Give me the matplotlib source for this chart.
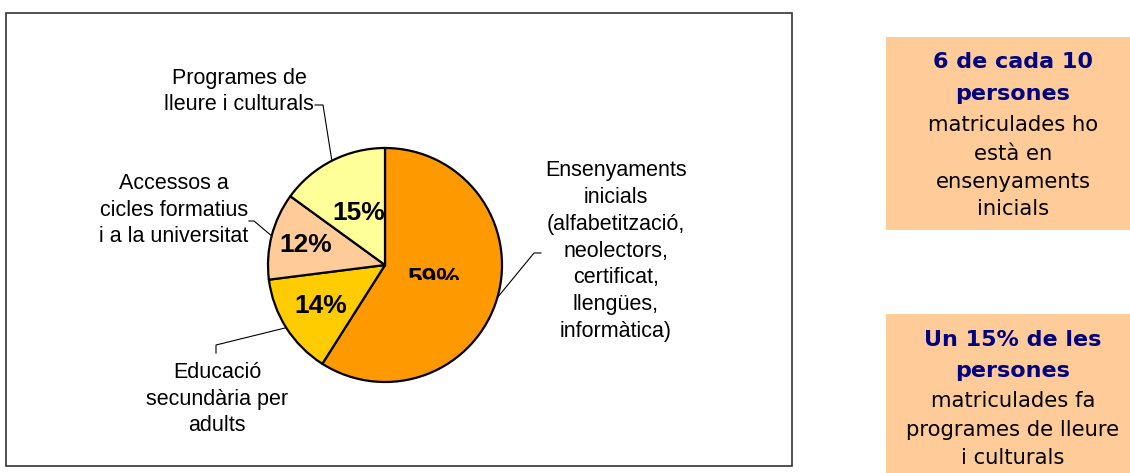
import math
import matplotlib
matplotlib.use("Agg")
import matplotlib.pyplot as plt
from matplotlib.patches import Rectangle
from matplotlib.transforms import Bbox, TransformedBbox

# ─── Data ─────────────────────────────────────────────────────────────────────
categories = [
    "Ensenyaments\ninicials\n(alfabetització,\nneolectors,\ncertificat,\nllengües,\ninformàtica)",
    "Educació\nsecundària per\nadults",
    "Accessos a\ncicles formatius\ni a la universitat",
    "Programes de\nlleure i culturals",
]
shares = [59, 14, 12, 15]
pct_labels = ["59%", "14%", "12%", "15%"]
colors = ["#FF9900", "#FFCC00", "#FFCC99", "#FFFF99"]

# ─── Layout (pixel coords, y measured from top) ──────────────────────────────
W, H = 1130, 473
CX, CY, R = 385, 265, 117
pct_r = [0.43, 0.65, 0.70, 0.50]          # radial position of the % labels
label_pos = [(616, 251), (217, 399), (174, 210), (239, 91.5)]
elbows = [[(534, 253), (541, 253)],
          [(216, 345), (216, 353)],
          [(254, 221), (249, 221)],
          [(323, 105), (315, 105)]]


def Y(y):
    return H - y


fig = plt.figure(figsize=(W / 100, H / 100), dpi=100)
fig.patch.set_facecolor("white")
ax = fig.add_axes([0, 0, 1, 1])

wedges, _ = ax.pie(
    shares, colors=colors, startangle=90, counterclock=False,
    center=(CX, Y(CY)), radius=R,
    wedgeprops=dict(edgecolor="black", linewidth=1.6),
)
ax.set_xlim(0, W)
ax.set_ylim(0, H)
ax.set_aspect("equal")
ax.axis("off")

# chart frame
ax.add_patch(Rectangle((6, Y(466)), 786, 453, fill=False,
                       edgecolor="#333333", linewidth=1.2, zorder=0))

# the big label is cut off at its bottom in the original
clip_box = TransformedBbox(Bbox([[0, Y(280)], [W, H]]), ax.transData)

for w, pct, rf, lab, (lx, ly), elb in zip(wedges, pct_labels, pct_r,
                                          categories, label_pos, elbows):
    mid = math.radians((w.theta1 + w.theta2) / 2)
    px = CX + rf * R * math.cos(mid)
    py = Y(CY) + rf * R * math.sin(mid)
    t = ax.text(px, py, pct, ha="center", va="center", fontsize=19,
                fontweight="bold", family="Liberation Sans", zorder=5)
    if pct == "59%":
        t.set_clip_on(True)
        t.set_clip_box(clip_box)

    # leader line from rim midpoint
    rx = CX + R * math.cos(mid)
    ry = Y(CY) + R * math.sin(mid)
    xs = [rx] + [p[0] for p in elb]
    ys = [ry] + [Y(p[1]) for p in elb]
    ax.plot(xs, ys, color="black", linewidth=0.8, zorder=4)

    ax.text(lx, Y(ly), lab, ha="center", va="center", fontsize=15.5,
            family="Liberation Sans", linespacing=1.36, color="black")

# ─── Side boxes ──────────────────────────────────────────────────────────────
ax.add_patch(Rectangle((886, Y(230)), 244, 193, facecolor="#FFCC99",
                       edgecolor="none"))
ax.add_patch(Rectangle((886, Y(473)), 244, 159, facecolor="#FFCC99",
                       edgecolor="none"))

box1 = [("6 de cada 10", 62, True), ("persones", 94, True),
        ("matriculades ho", 125, False), ("està en", 154, False),
        ("ensenyaments", 182, False), ("inicials", 209, False)]
box2 = [("Un 15% de les", 340, True), ("persones", 371, True),
        ("matriculades fa", 401, False), ("programes de lleure", 430, False),
        ("i culturals", 458, False)]

for lines, xc in ((box1, 1013), (box2, 1013)):
    for txt, y, bold in lines:
        ax.text(xc, Y(y), txt, ha="center", va="center",
                fontsize=16 if bold else 15.2,
                family="DejaVu Sans",
                fontweight="bold" if bold else "normal",
                color="#000080" if bold else "black")

fig.savefig("out.png", dpi=100, facecolor="white")
